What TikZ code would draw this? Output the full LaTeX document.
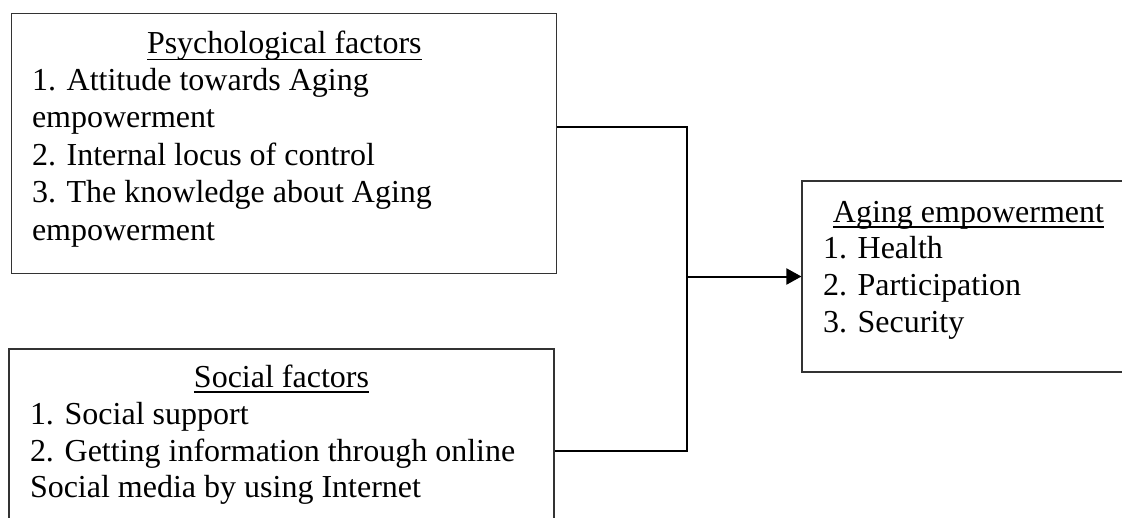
\documentclass[tikz,border=0pt]{standalone}
\usepackage{fontspec}
\setmainfont{Liberation Serif}
\usetikzlibrary{arrows.meta}

\tikzset{
  box/.style={draw=black!80, line width=1.1pt, rectangle, inner sep=0pt},
  txt/.style={inner sep=0pt, outer sep=0pt, anchor=base west,
              font=\fontsize{32}{37.5}\selectfont},
  ttl/.style={inner sep=0pt, outer sep=0pt, anchor=base,
              font=\fontsize{32}{37.5}\selectfont},
  uline/.style={line width=1.3pt},
  link/.style={line width=1.6pt},
  arr/.style={line width=2pt, -{Triangle[length=15pt,width=16pt]}}
}

\begin{document}
\begin{tikzpicture}[x=1pt,y=-1pt]
  \useasboundingbox (0,0) rectangle (1122,517);
  \clip (0,0) rectangle (1122,517);

  % boxes
  \node[box, minimum width=545pt, minimum height=260pt] (psy) at (284.3,143.2) {};
  \node[box, minimum width=545pt, minimum height=185pt] (soc) at (281.5,441.5) {};
  \node[box, minimum width=333pt, minimum height=191pt] (age) at (968.5,276.5) {};

  % psychological factors
  \node[ttl] (psyT) at (284.3,53.5) {Psychological factors};
  \draw[uline] ([yshift=-6pt]psyT.base west) -- ([yshift=-6pt]psyT.base east);
  \node[txt] (p1) at (32,90)    {1. Attitude towards Aging};
  \node[txt] (p2) at (32,127.5) {empowerment};
  \node[txt] (p3) at (32,165)   {2. Internal locus of control};
  \node[txt] (p4) at (32,202.5) {3. The knowledge about Aging};
  \node[txt] (p5) at (32,240)   {empowerment};

  % social factors
  \node[ttl] (socT) at (281.5,387) {Social factors};
  \draw[uline] ([yshift=-5pt]socT.base west) -- ([yshift=-5pt]socT.base east);
  \node[txt] (s1) at (30,424.5) {1. Social support};
  \node[txt] (s2) at (30,461)   {2. Getting information through online};
  \node[txt] (s3) at (30,497.5) {Social media by using Internet};

  % aging empowerment
  \node[ttl] (ageT) at (968.5,222) {Aging empowerment};
  \draw[uline] ([yshift=-5pt]ageT.base west) -- ([yshift=-5pt]ageT.base east);
  \node[txt] (a1) at (823,258) {1. Health};
  \node[txt] (a2) at (823,295) {2. Participation};
  \node[txt] (a3) at (823,332) {3. Security};

  % connectors
  \coordinate (jtop) at (687,127);
  \coordinate (jbot) at (687,451);
  \draw[link] (psy.east |- jtop) -- (jtop) -- (jbot) -- (soc.east |- jbot);
  \draw[arr] (jtop |- age.west) -- (age.west);
\end{tikzpicture}
\end{document}
